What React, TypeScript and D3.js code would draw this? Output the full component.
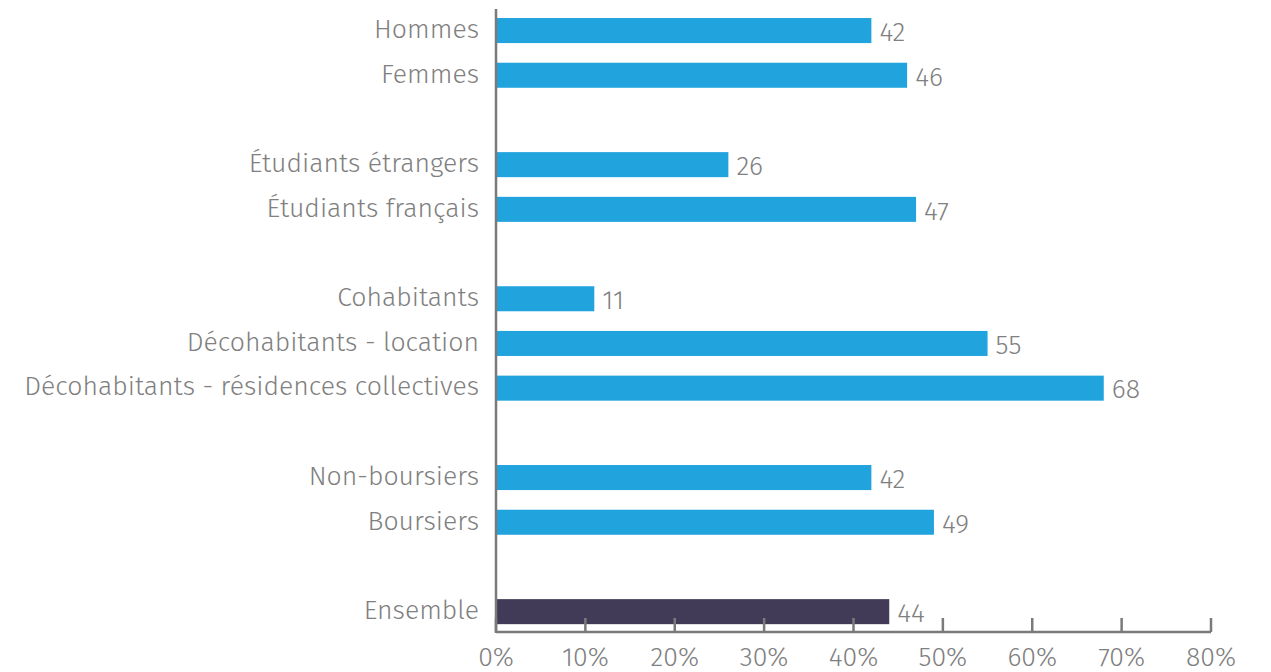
import React from "react";
import * as d3 from "d3";

const categories = [
  "Hommes",
  "Femmes",
  "",
  "Étudiants étrangers",
  "Étudiants français",
  " ",
  "Cohabitants",
  "Décohabitants - location",
  "Décohabitants - résidences collectives",
  "  ",
  "Non-boursiers",
  "Boursiers",
  "   ",
  "Ensemble",
];
const values: (number | null)[] = [42, 46, null, 26, 47, null, 11, 55, 68, null, 42, 49, null, 44];
const highlight = ["Ensemble"];
const xTicks = [0, 10, 20, 30, 40, 50, 60, 70, 80];

const W = 1271;
const H = 672;
const left = 496;
const right = 1211;
const top = 8.2;
const bottom = 634;
const axisY = 632;

export default function App() {
  const x = d3.scaleLinear().domain([0, 80]).range([left, right]);
  const y = d3.scaleBand<number>().domain(d3.range(categories.length)).range([top, bottom]).paddingInner(0.44).paddingOuter(0.22);
  const font = "'Fira Sans', 'Open Sans', 'Noto Sans', sans-serif";
  const grey = "#808080";
  const fs = 26.6;
  return (
    <svg width={W} height={H} style={{ position: "absolute", left: 0, top: 0, background: "#fff" }}>
      {categories.map((c, i) => {
        const v = values[i];
        if (v == null) return null;
        const yy = y(i)!;
        const bw = y.bandwidth();
        return (
          <g key={i}>
            <rect x={x(0)} y={yy} width={x(v) - x(0)} height={bw} fill={highlight.includes(c) ? "#413b57" : "#21a3dd"} />
            <text x={left - 17} y={yy + bw / 2 - 2} dy="0.35em" textAnchor="end" fontFamily={font} fontWeight={300} fontSize={fs} fill={grey}>
              {c}
            </text>
            <text x={x(v) + 8} y={yy + bw / 2 + 1} dy="0.35em" textAnchor="start" fontFamily={font} fontWeight={300} fontSize={fs} fill={grey}>
              {v}
            </text>
          </g>
        );
      })}
      <line x1={left} x2={left} y1={9} y2={axisY + 1} stroke="#7a7a7a" strokeWidth={2.5} />
      <line x1={left} x2={right} y1={axisY} y2={axisY} stroke="#7a7a7a" strokeWidth={2.5} />
      {xTicks.map((t) => (
        <g key={t}>
          <line x1={x(t)} x2={x(t)} y1={axisY} y2={axisY - 14} stroke="#7a7a7a" strokeWidth={2.5} />
          <text x={x(t)} y={657} dy="0.35em" textAnchor="middle" fontFamily={font} fontWeight={300} fontSize={fs} fill={grey}>
            {t}%
          </text>
        </g>
      ))}
    </svg>
  );
}
